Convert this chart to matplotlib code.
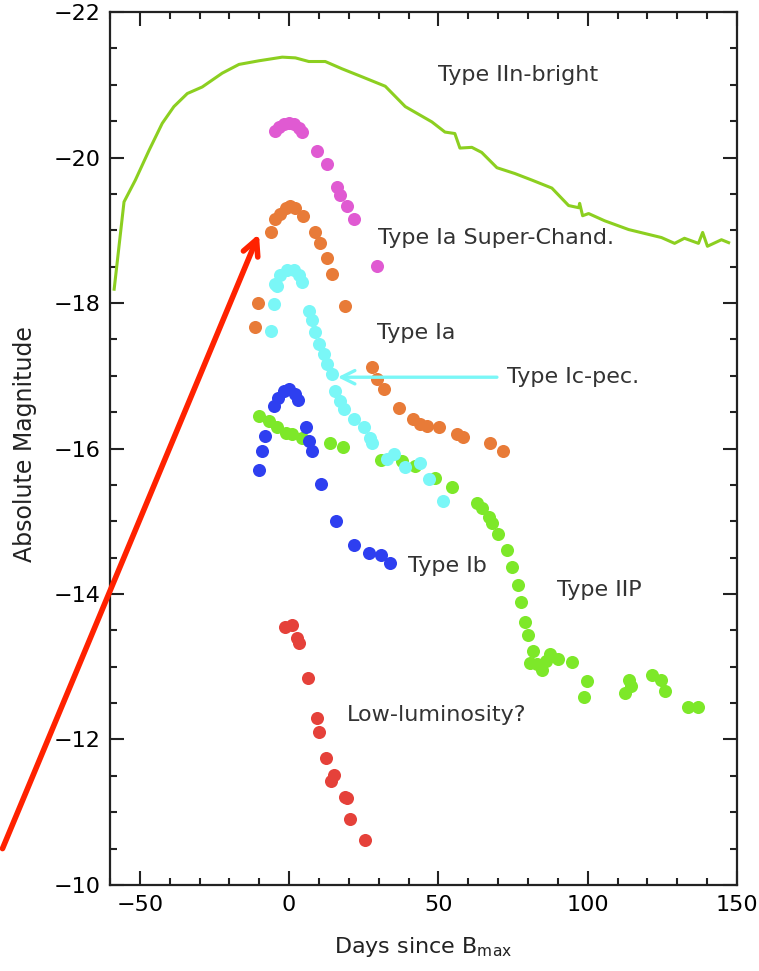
#%% import library
import matplotlib
matplotlib.use('Agg')
import matplotlib.pyplot as plt
from matplotlib.ticker import MultipleLocator

#%% data (days since B max, absolute magnitude)
iin_t = [-58.6, -55.3, -51.5, -46.9, -42.5, -38.6, -34.1, -29.1, -22.4, -16.8,
         -10.1, -2.3, 2.1, 6.6, 12.1, 17.7, 24.4, 32.2, 38.9, 47.8, 52.2, 55.5,
         57.2, 61.2, 64.5, 69.6, 75.6, 81.3, 88.0, 93.6, 97.0, 97.3, 98.3, 100.3,
         105.7, 113.7, 124.7, 129.1, 132.4, 137.1, 138.5, 140.1, 144.8, 147.2]
iin_m = [-18.19, -19.39, -19.69, -20.10, -20.47, -20.70, -20.88, -20.97, -21.16, -21.28,
         -21.33, -21.38, -21.37, -21.32, -21.32, -21.22, -21.11, -20.98, -20.70, -20.49, -20.35, -20.33,
         -20.13, -20.14, -20.07, -19.86, -19.78, -19.69, -19.58, -19.34, -19.31, -19.37, -19.20, -19.23,
         -19.13, -19.01, -18.90, -18.82, -18.89, -18.82, -18.97, -18.78, -18.87, -18.83]

sch_t = [-4.8, -3.4, -1.8, -0.1, 1.6, 3.2, 4.3, 9.4, 12.7, 16.1, 17.2, 19.4, 21.6, 29.4]
sch_m = [-20.36, -20.42, -20.46, -20.48, -20.46, -20.40, -20.35, -20.09, -19.91, -19.59,
         -19.48, -19.33, -19.15, -18.51]

ia_t = [-11.3, -10.4, -6.2, -4.6, -3.1, -1.2, 0.4, 2.1, 4.6, 8.6, 10.5, 12.7, 14.4, 18.8,
        27.8, 29.4, 31.7, 36.7, 41.4, 43.9, 46.2, 50.3, 56.2, 58.4, 67.3, 71.5]
ia_m = [-17.67, -18.00, -18.98, -19.16, -19.23, -19.30, -19.33, -19.30, -19.20, -18.97,
        -18.82, -18.62, -18.40, -17.96, -17.12, -16.95, -16.82, -16.55, -16.40, -16.34,
        -16.31, -16.29, -16.20, -16.16, -16.07, -15.96]

icpec_t = [-6.2, -5.1, -4.6, -4.0, -2.9, -0.7, 1.6, 3.2, 4.3, 6.6, 7.7, 8.8, 10.1, 11.6,
           12.7, 14.4, 15.5, 17.2, 18.3, 21.6, 25.0, 27.2, 27.8, 32.8, 35.0, 38.9, 43.9,
           46.7, 51.7]
icpec_m = [-17.61, -17.98, -18.26, -18.24, -18.38, -18.46, -18.45, -18.38, -18.29, -17.89,
           -17.76, -17.60, -17.44, -17.30, -17.16, -17.02, -16.79, -16.65, -16.54, -16.40,
           -16.29, -16.15, -16.08, -15.85, -15.92, -15.74, -15.80, -15.58, -15.28]

ib_t = [-10.1, -9.0, -8.1, -5.1, -3.7, -1.8, 0.1, 1.9, 3.0, 5.7, 6.6, 7.7, 10.7, 15.7,
        21.6, 26.7, 30.9, 33.9]
ib_m = [-15.71, -15.96, -16.17, -16.59, -16.70, -16.79, -16.82, -16.75, -16.66, -16.30,
        -16.11, -15.96, -15.51, -15.00, -14.67, -14.56, -14.53, -14.43]

iip_t = [-10.1, -6.8, -4.0, -1.2, 1.0, 4.3, 13.8, 18.0, 30.9, 37.8, 42.2, 48.9, 54.7,
         62.9, 64.5, 66.8, 67.9, 69.9, 72.9, 74.6, 76.8, 77.7, 79.0, 79.9, 81.8, 80.7,
         82.9, 84.8, 86.0, 87.4, 90.0, 94.9, 99.7, 98.8, 113.8, 114.5, 112.5, 121.6,
         124.7, 125.9, 133.7, 137.1]
iip_m = [-16.45, -16.38, -16.29, -16.22, -16.20, -16.15, -16.07, -16.02, -15.84, -15.83,
         -15.76, -15.60, -15.47, -15.25, -15.18, -15.06, -14.98, -14.83, -14.60, -14.37,
         -14.13, -13.89, -13.61, -13.43, -13.22, -13.05, -13.04, -12.96, -13.08, -13.17,
         -13.10, -13.07, -12.80, -12.58, -12.82, -12.73, -12.64, -12.88, -12.82, -12.66,
         -12.45, -12.44]

lowlum_t = [-1.4, 0.8, 2.7, 3.4, 6.4, 9.4, 10.1, 12.5, 14.1, 14.9, 18.8, 19.4, 20.5, 25.3]
lowlum_m = [-13.55, -13.57, -13.39, -13.32, -12.85, -12.29, -12.10, -11.75, -11.43, -11.51,
            -11.21, -11.20, -10.90, -10.62]

# labels: text, x, y
labels = [('Type IIn-bright', 50.0, -21.13),
          ('Type Ia Super-Chand.', 29.8, -18.89),
          ('Type Ia', 29.4, -17.59),
          ('Type Ic-pec.', 72.9, -16.98),
          ('Type Ib', 39.8, -14.38),
          ('Type IIP', 89.6, -14.06),
          ('Low-luminosity?', 19.4, -12.34)]

#%% plot
plt.rcParams['mathtext.fontset'] = 'dejavusans'
fig = plt.figure(figsize=(7.59, 9.71), dpi=100)
ax = fig.add_axes([0.1449, 0.0886, 0.8261, 0.8990])

ms = 9.4
ax.plot(iin_t, iin_m, color='#8ccf20', lw=2.2)
ax.plot(sch_t, sch_m, 'o', color='#e05ad2', ms=ms, mew=0)
ax.plot(ia_t, ia_m, 'o', color='#e87b38', ms=ms, mew=0)
ax.plot(iip_t, iip_m, 'o', color='#7de829', ms=ms, mew=0)
ax.plot(icpec_t, icpec_m, 'o', color='#7af7f7', ms=ms, mew=0)
ax.plot(ib_t, ib_m, 'o', color='#2e3ff0', ms=ms, mew=0)
ax.plot(lowlum_t, lowlum_m, 'o', color='#e5413a', ms=ms, mew=0)

for txt, x, y in labels:
    ax.text(x, y, txt, fontsize=16, color='#333333', ha='left', va='center')

# cyan arrow to the Ic-pec curve
ax.annotate('', xy=(16.3, -16.98), xytext=(69.6, -16.98),
            arrowprops=dict(arrowstyle='->', color='#7af7f7', lw=2.4,
                            mutation_scale=24, shrinkA=0, shrinkB=0))
# red arrow from outside the axes
ax.annotate('', xy=(-10.1, -18.95), xytext=(-96.0, -10.50),
            arrowprops=dict(arrowstyle='->', color='#ff2200', lw=4,
                            mutation_scale=28, shrinkA=0, shrinkB=0),
            annotation_clip=False)

ax.set_xlim(-60, 150)
ax.set_ylim(-10, -22)
ax.xaxis.set_major_locator(MultipleLocator(50))
ax.xaxis.set_minor_locator(MultipleLocator(10))
ax.yaxis.set_major_locator(MultipleLocator(2))
ax.yaxis.set_minor_locator(MultipleLocator(0.5))
ax.tick_params(which='both', direction='in', top=True, right=True, width=1.5,
               labelsize=16, pad=7, color='#222222')
ax.tick_params(which='major', length=10)
ax.tick_params(which='minor', length=5)
for sp in ax.spines.values():
    sp.set_linewidth(1.6)
    sp.set_color('#222222')

ax.set_xlabel(r'Days since B$_{\mathrm{max}}$', fontsize=16, color='#222222')
ax.set_ylabel('Absolute Magnitude', fontsize=17, color='#222222')
ax.xaxis.set_label_coords(0.5, -0.071)
ax.xaxis.label.set_va('center')
ax.yaxis.set_label_coords(-0.136, 0.505)
ax.yaxis.label.set_va('center')

plt.savefig('out.png', dpi=100)
